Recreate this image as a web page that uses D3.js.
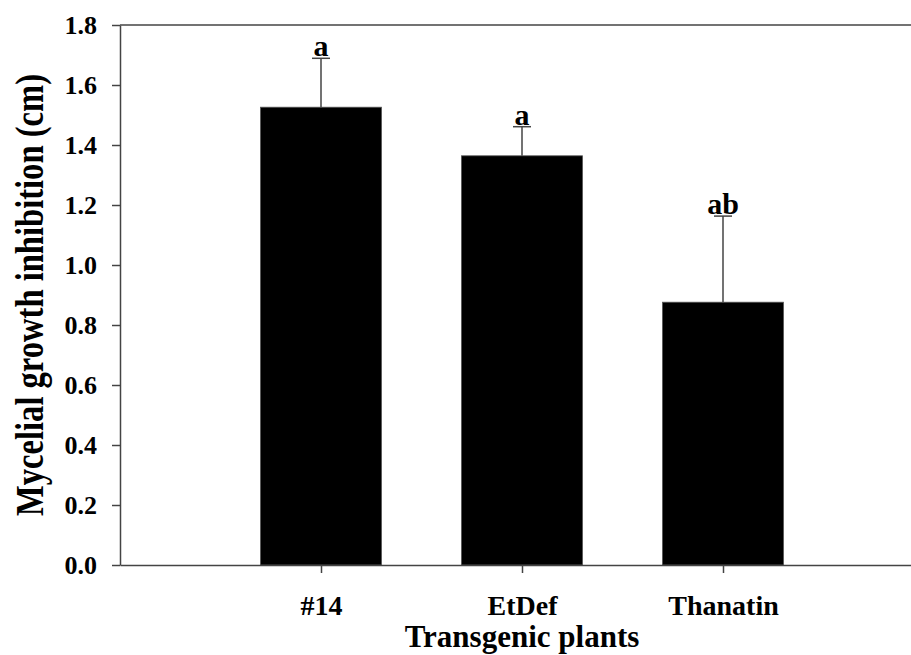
<!doctype html>
<html>
<head>
    <title>Mycelial growth inhibition</title>
    <meta charset="utf-8">
    <script src="https://d3js.org/d3.v7.min.js"></script>
    <style>
        body { margin: 0; background: #fff; }
        svg { display: block; }
        text { font-family: "Liberation Serif", "Times New Roman", serif; font-weight: bold; fill: #000; }
    </style>
</head>
<body>
    <div id="viz">
      <svg width="911" height="655"></svg>
    </div>
    <script>
        // values
        var plants = ["#14", "EtDef", "Thanatin"];
        var inhibition = [1.526, 1.364, 0.876];
        var errors = [0.163, 0.097, 0.287];
        var letters = ["a", "a", "ab"];
        var yTicks = [0, 0.2, 0.4, 0.6, 0.8, 1.0, 1.2, 1.4, 1.6, 1.8];

        var svg = d3.select("svg");
        var plotLeft = 120, plotTop = 25, plotBottom = 565, plotRight = 924;
        var axisColor = "#444";

        var x = d3.scalePoint()
          .domain(plants)
          .range([plotLeft, plotRight])
          .padding(1);

        var y = d3.scaleLinear()
          .domain([0, 1.8])
          .range([plotBottom, plotTop]);

        var barW = 121;

        var rows = plants.map(function(p, i) {
          return {name: p, value: inhibition[i], err: errors[i], letter: letters[i]};
        });

        // bars
        svg.selectAll("rect.bar")
          .data(rows)
          .enter()
          .append("rect")
          .attr("class", "bar")
          .attr("x", d => x(d.name) - barW / 2)
          .attr("y", d => y(d.value))
          .attr("width", barW)
          .attr("height", d => y(0) - y(d.value))
          .style("fill", "#000")
          .style("stroke", "#555")
          .style("stroke-width", 0.8);

        // error bars (upper only)
        svg.selectAll("line.err")
          .data(rows)
          .enter()
          .append("line")
          .attr("class", "err")
          .attr("x1", d => x(d.name))
          .attr("x2", d => x(d.name))
          .attr("y1", d => y(d.value))
          .attr("y2", d => y(d.value + d.err))
          .style("stroke", axisColor)
          .style("stroke-width", 1.5);

        svg.selectAll("line.cap")
          .data(rows)
          .enter()
          .append("line")
          .attr("class", "cap")
          .attr("x1", d => x(d.name) - 9)
          .attr("x2", d => x(d.name) + 9)
          .attr("y1", d => y(d.value + d.err))
          .attr("y2", d => y(d.value + d.err))
          .style("stroke", axisColor)
          .style("stroke-width", 1.5);

        svg.selectAll("text.sig")
          .data(rows)
          .enter()
          .append("text")
          .attr("class", "sig")
          .attr("x", d => x(d.name))
          .attr("y", d => y(d.value + d.err) - 2)
          .attr("text-anchor", "middle")
          .style("font-size", "30px")
          .text(d => d.letter);

        // axes
        var yAxis = svg.append("g")
          .attr("transform", "translate(" + plotLeft + ",0)")
          .call(d3.axisLeft(y).tickValues(yTicks).tickFormat(d3.format(".1f")).tickSizeInner(8).tickSizeOuter(0).tickPadding(15));

        var xAxis = svg.append("g")
          .attr("transform", "translate(0," + plotBottom + ")")
          .call(d3.axisBottom(x).tickSizeInner(8).tickSizeOuter(0).tickPadding(22));

        [yAxis, xAxis].forEach(function(g) {
          g.selectAll("path, line").style("stroke", axisColor).style("stroke-width", 1.5);
          g.selectAll("text")
            .style("font-family", "'Liberation Serif', 'Times New Roman', serif")
            .style("font-weight", "bold")
            .style("fill", "#000");
        });
        yAxis.selectAll("text").style("font-size", "26px");
        xAxis.selectAll("text").style("font-size", "28px");

        // top frame line
        svg.append("line")
          .attr("x1", plotLeft)
          .attr("x2", 911)
          .attr("y1", y(1.8))
          .attr("y2", y(1.8))
          .style("stroke", axisColor)
          .style("stroke-width", 1.5);

        // axis titles
        svg.append("text")
          .attr("x", (x(plants[0]) + x(plants[2])) / 2)
          .attr("y", 647)
          .attr("text-anchor", "middle")
          .style("font-size", "31px")
          .text("Transgenic plants");

        svg.append("text")
          .attr("transform", "translate(43," + ((plotTop + plotBottom) / 2) + ") rotate(-90)")
          .attr("text-anchor", "middle")
          .attr("textLength", 442)
          .attr("lengthAdjust", "spacingAndGlyphs")
          .style("font-size", "40px")
          .text("Mycelial growth inhibition (cm)");
    </script>
</body>
</html>
